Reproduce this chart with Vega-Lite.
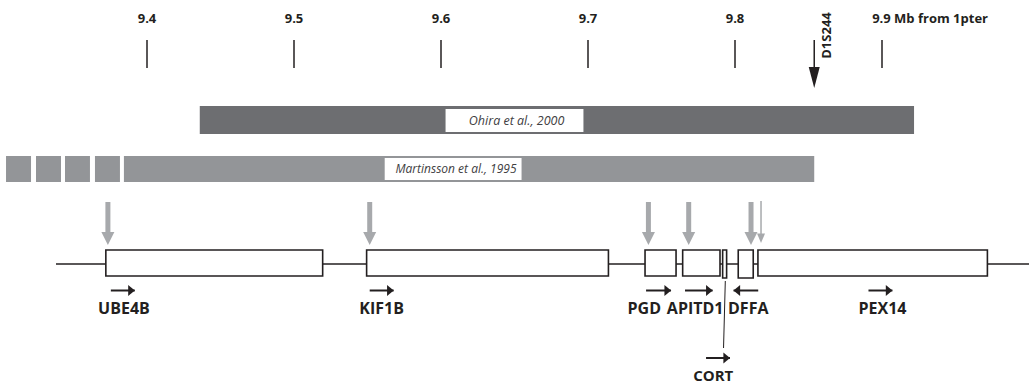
{
"$schema": "https://vega.github.io/schema/vega-lite/v6.json",
"width": 1030, "height": 384, "padding": 0,
"autosize": {"type": "fit", "contains": "padding"},
"background": "white",
"config": {"view": {"stroke": null}, "axis": {"disable": true}},
"layer": [
{"data": {"values": [{"mb": 9.4}, {"mb": 9.5}, {"mb": 9.6}, {"mb": 9.7}, {"mb": 9.8}, {"mb": 9.9}]},
 "mark": {"type": "rule", "color": "#231f20", "strokeWidth": 1.5},
 "encoding": {
  "x": {"field": "mb", "type": "quantitative", "scale": {"domain": [9.3, 10.0], "nice": false, "zero": false}, "axis": null},
  "y": {"datum": 40, "type": "quantitative", "scale": {"domain": [0, 384], "reverse": true, "nice": false, "zero": false}, "axis": null},
  "y2": {"datum": 68}}},
{"data": {"values": [{"mb": 9.4, "t": "9.4"}, {"mb": 9.5, "t": "9.5"}, {"mb": 9.6, "t": "9.6"}, {"mb": 9.7, "t": "9.7"}, {"mb": 9.8, "t": "9.8"}]},
 "mark": {"type": "text", "font": "Open Sans", "fontWeight": "bold", "fontSize": 13, "color": "#231f20", "align": "center", "baseline": "alphabetic"},
 "encoding": {"x": {"field": "mb", "type": "quantitative"}, "y": {"datum": 23, "type": "quantitative"}, "text": {"field": "t"}}},
{"data": {"values": [{"mb": 9.8933, "t": "9.9 Mb from 1pter"}]},
 "mark": {"type": "text", "font": "Open Sans", "fontWeight": "bold", "fontSize": 13, "color": "#231f20", "align": "left", "baseline": "alphabetic"},
 "encoding": {"x": {"field": "mb", "type": "quantitative"}, "y": {"datum": 23, "type": "quantitative"}, "text": {"field": "t"}}},
{"data": {"values": [{"mb": 9.8539, "marker": "D1S244"}]},
 "layer": [
  {"mark": {"type": "rule", "color": "#231f20", "strokeWidth": 1.5},
   "encoding": {"x": {"field": "mb", "type": "quantitative"}, "y": {"datum": 40, "type": "quantitative"}, "y2": {"datum": 74}}},
  {"mark": {"type": "point", "shape": "M-1,-3.8L1,-3.8L0,0Z", "filled": true, "size": 121, "color": "#231f20", "opacity": 1, "strokeWidth": 0},
   "encoding": {"x": {"field": "mb", "type": "quantitative"}, "y": {"datum": 88, "type": "quantitative"}}}
 ]},
{"data": {"values": [{"mb": 9.8627, "marker": "D1S244"}]},
 "mark": {"type": "text", "font": "Open Sans", "fontWeight": "bold", "fontSize": 13, "color": "#231f20", "align": "center", "baseline": "middle", "angle": 270},
 "encoding": {"x": {"field": "mb", "type": "quantitative"}, "y": {"datum": 35.5, "type": "quantitative"}, "text": {"field": "marker"}}},
{"data": {"values": [{"start": 9.4359, "end": 9.9218, "study": "Ohira et al., 2000"}]},
 "mark": {"type": "rect", "color": "#6d6e71"},
 "encoding": {"x": {"field": "start", "type": "quantitative"}, "x2": {"field": "end"}, "y": {"datum": 106, "type": "quantitative"}, "y2": {"datum": 134}}},
{"data": {"values": [{"start": 9.6031, "end": 9.6969, "mid": 9.6514, "study": "Ohira et al., 2000"}]},
 "layer": [
  {"mark": {"type": "rect", "color": "white"},
   "encoding": {"x": {"field": "start", "type": "quantitative"}, "x2": {"field": "end"}, "y": {"datum": 109, "type": "quantitative"}, "y2": {"datum": 132}}},
  {"mark": {"type": "text", "font": "Open Sans", "fontStyle": "italic", "fontSize": 12.5, "color": "#414042", "align": "center", "baseline": "middle"},
   "encoding": {"x": {"field": "mid", "type": "quantitative"}, "y": {"datum": 120.5, "type": "quantitative"}, "text": {"field": "study"}}}
 ]},
{"data": {"values": [{"start": 9.3041, "end": 9.3211}, {"start": 9.3245, "end": 9.3415}, {"start": 9.3442, "end": 9.3612}, {"start": 9.3646, "end": 9.3816}, {"start": 9.3843, "end": 9.8539}]},
 "mark": {"type": "rect", "color": "#939598"},
 "encoding": {"x": {"field": "start", "type": "quantitative"}, "x2": {"field": "end"}, "y": {"datum": 156, "type": "quantitative"}, "y2": {"datum": 182}}},
{"data": {"values": [{"start": 9.5617, "end": 9.6548, "mid": 9.6102, "study": "Martinsson et al., 1995"}]},
 "layer": [
  {"mark": {"type": "rect", "color": "white"},
   "encoding": {"x": {"field": "start", "type": "quantitative"}, "x2": {"field": "end"}, "y": {"datum": 158, "type": "quantitative"}, "y2": {"datum": 180}}},
  {"mark": {"type": "text", "font": "Open Sans", "fontStyle": "italic", "fontSize": 12, "color": "#414042", "align": "center", "baseline": "middle"},
   "encoding": {"x": {"field": "mid", "type": "quantitative"}, "y": {"datum": 169, "type": "quantitative"}, "text": {"field": "study"}}}
 ]},
{"data": {"values": [{"start": 9.3381, "end": 10.0}]},
 "mark": {"type": "rule", "color": "#231f20", "strokeWidth": 1.5},
 "encoding": {"x": {"field": "start", "type": "quantitative"}, "x2": {"field": "end"}, "y": {"datum": 264, "type": "quantitative"}}},
{"data": {"values": [{"gene": "UBE4B", "start": 9.3720, "end": 9.5195}, {"gene": "KIF1B", "start": 9.5494, "end": 9.7139}, {"gene": "PGD", "start": 9.7388, "end": 9.7599}, {"gene": "APITD1", "start": 9.7644, "end": 9.7898}, {"gene": "PEX14", "start": 9.8156, "end": 9.9717}]},
 "mark": {"type": "rect", "fill": "white", "stroke": "#231f20", "strokeWidth": 1.6},
 "encoding": {"x": {"field": "start", "type": "quantitative"}, "x2": {"field": "end"}, "y": {"datum": 250, "type": "quantitative"}, "y2": {"datum": 276}}},
{"data": {"values": [{"gene": "CORT", "start": 9.7916, "end": 9.7943}, {"gene": "DFFA", "start": 9.8022, "end": 9.8124}]},
 "mark": {"type": "rect", "fill": "white", "stroke": "#231f20", "strokeWidth": 1.6},
 "encoding": {"x": {"field": "start", "type": "quantitative"}, "x2": {"field": "end"}, "y": {"datum": 250, "type": "quantitative"}, "y2": {"datum": 278}}},
{"data": {"values": [{"mb": 9.3734}, {"mb": 9.5515}, {"mb": 9.7411}, {"mb": 9.7685}, {"mb": 9.8109}]},
 "layer": [
  {"mark": {"type": "rule", "color": "#a7a9ac", "strokeWidth": 5},
   "encoding": {"x": {"field": "mb", "type": "quantitative"}, "y": {"datum": 202, "type": "quantitative"}, "y2": {"datum": 235}}},
  {"mark": {"type": "point", "shape": "M-1,-2L1,-2L0,0Z", "filled": true, "size": 169, "color": "#a7a9ac", "opacity": 1, "strokeWidth": 0},
   "encoding": {"x": {"field": "mb", "type": "quantitative"}, "y": {"datum": 245, "type": "quantitative"}}}
 ]},
{"data": {"values": [{"mb": 9.8177}]},
 "layer": [
  {"mark": {"type": "rule", "color": "#a7a9ac", "strokeWidth": 1.5},
   "encoding": {"x": {"field": "mb", "type": "quantitative"}, "y": {"datum": 201, "type": "quantitative"}, "y2": {"datum": 236}}},
  {"mark": {"type": "point", "shape": "M-1,-2.4L1,-2.4L0,0Z", "filled": true, "size": 64, "color": "#a7a9ac", "opacity": 1, "strokeWidth": 0},
   "encoding": {"x": {"field": "mb", "type": "quantitative"}, "y": {"datum": 243, "type": "quantitative"}}}
 ]},
{"data": {"values": [{"gene": "UBE4B", "from": 9.3754, "to": 9.3917}, {"gene": "KIF1B", "from": 9.5515, "to": 9.5678}, {"gene": "PGD", "from": 9.7395, "to": 9.7565}, {"gene": "APITD1", "from": 9.7660, "to": 9.7848}, {"gene": "PEX14", "from": 9.8908, "to": 9.9071}]},
 "layer": [
  {"mark": {"type": "rule", "color": "#231f20", "strokeWidth": 2},
   "encoding": {"x": {"field": "from", "type": "quantitative"}, "x2": {"field": "to"}, "y": {"datum": 290.5, "type": "quantitative"}}},
  {"mark": {"type": "point", "shape": "M-1.2,-1L0,0L-1.2,1Z", "filled": true, "size": 121, "color": "#231f20", "opacity": 1, "strokeWidth": 0},
   "encoding": {"x": {"field": "to", "type": "quantitative"}, "y": {"datum": 290.5, "type": "quantitative"}}}
 ]},
{"data": {"values": [{"gene": "DFFA", "from": 9.8158, "to": 9.7990}]},
 "layer": [
  {"mark": {"type": "rule", "color": "#231f20", "strokeWidth": 2},
   "encoding": {"x": {"field": "from", "type": "quantitative"}, "x2": {"field": "to"}, "y": {"datum": 290.5, "type": "quantitative"}}},
  {"mark": {"type": "point", "shape": "M1.2,-1L0,0L1.2,1Z", "filled": true, "size": 121, "color": "#231f20", "opacity": 1, "strokeWidth": 0},
   "encoding": {"x": {"field": "to", "type": "quantitative"}, "y": {"datum": 290.5, "type": "quantitative"}}}
 ]},
{"data": {"values": [{"gene": "CORT", "from": 9.7803, "to": 9.7966}]},
 "layer": [
  {"mark": {"type": "rule", "color": "#231f20", "strokeWidth": 2},
   "encoding": {"x": {"field": "from", "type": "quantitative"}, "x2": {"field": "to"}, "y": {"datum": 358, "type": "quantitative"}}},
  {"mark": {"type": "point", "shape": "M-1.2,-1L0,0L-1.2,1Z", "filled": true, "size": 121, "color": "#231f20", "opacity": 1, "strokeWidth": 0},
   "encoding": {"x": {"field": "to", "type": "quantitative"}, "y": {"datum": 358, "type": "quantitative"}}}
 ]},
{"data": {"values": [{"top": 9.7934, "bottom": 9.7922}]},
 "mark": {"type": "rule", "color": "#231f20", "strokeWidth": 1},
 "encoding": {"x": {"field": "top", "type": "quantitative"}, "x2": {"field": "bottom"}, "y": {"datum": 281, "type": "quantitative"}, "y2": {"datum": 348}}},
{"data": {"values": [{"gene": "UBE4B", "mb": 9.3843}, {"gene": "KIF1B", "mb": 9.5596}, {"gene": "PGD", "mb": 9.7383}, {"gene": "APITD1", "mb": 9.7729}, {"gene": "DFFA", "mb": 9.8090}, {"gene": "PEX14", "mb": 9.9003}]},
 "mark": {"type": "text", "font": "Open Sans", "fontWeight": "bold", "fontSize": 16, "color": "#231f20", "align": "center", "baseline": "middle"},
 "encoding": {"x": {"field": "mb", "type": "quantitative"}, "y": {"datum": 308.5, "type": "quantitative"}, "text": {"field": "gene"}}},
{"data": {"values": [{"gene": "CORT", "mb": 9.7852}]},
 "mark": {"type": "text", "font": "Open Sans", "fontWeight": "bold", "fontSize": 15, "color": "#231f20", "align": "center", "baseline": "middle"},
 "encoding": {"x": {"field": "mb", "type": "quantitative"}, "y": {"datum": 375.5, "type": "quantitative"}, "text": {"field": "gene"}}}
]
}
